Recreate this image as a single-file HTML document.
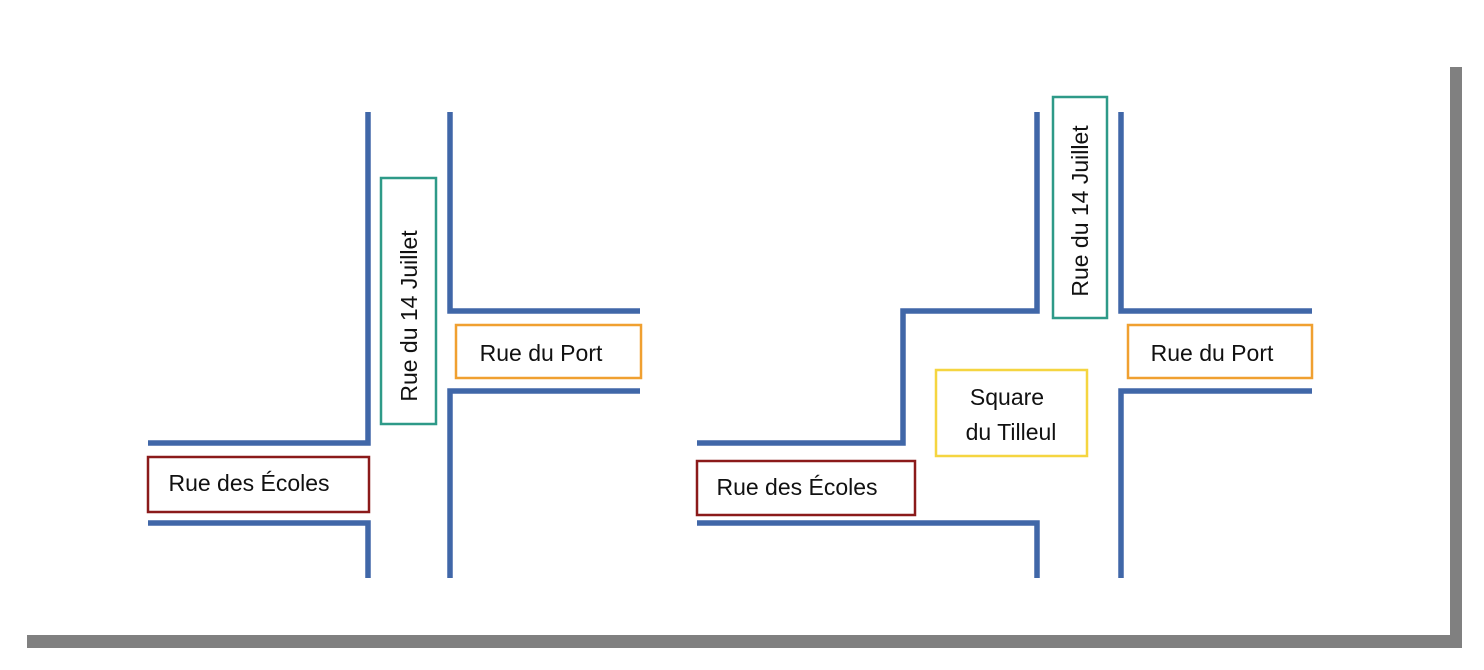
<!DOCTYPE html>
<html><head><meta charset="utf-8"><style>
html,body{margin:0;padding:0;background:#fff;width:1484px;height:670px;overflow:hidden}
svg text{font-family:"Liberation Sans",sans-serif;font-size:23px;fill:#111}
</style></head><body>
<svg width="1484" height="670" xmlns="http://www.w3.org/2000/svg">
<rect x="1450" y="67" width="12" height="581" fill="#808080"/>
<rect x="27" y="635" width="1435" height="13" fill="#808080"/>
<g fill="none" stroke="#4067a8" stroke-width="5.5">
<polyline points="368,112 368,443 148,443"/>
<polyline points="148,523 368,523 368,578"/>
<polyline points="450,112 450,311 640,311"/>
<polyline points="640,391 450,391 450,578"/>
<polyline points="1037,112 1037,311 903,311 903,443 697,443"/>
<polyline points="697,523 1037,523 1037,578"/>
<polyline points="1121,112 1121,311 1312,311"/>
<polyline points="1312,391 1121,391 1121,578"/>
</g>
<g fill="#fff" stroke-width="2.5">
<rect x="381" y="178" width="55" height="246" stroke="#2e9a88"/>
<rect x="456" y="325" width="185" height="53" stroke="#f0a030"/>
<rect x="148" y="457" width="221" height="55" stroke="#8b1a1a"/>
<rect x="1053" y="97" width="54" height="221" stroke="#2e9a88"/>
<rect x="1128" y="325" width="184" height="53" stroke="#f0a030"/>
<rect x="936" y="370" width="151" height="86" stroke="#f5d540"/>
<rect x="697" y="461" width="218" height="54" stroke="#8b1a1a"/>
</g>
<text transform="translate(417,316) rotate(-90)" text-anchor="middle">Rue du 14 Juillet</text>
<text x="541" y="361" text-anchor="middle">Rue du Port</text>
<text x="249" y="491" text-anchor="middle">Rue des Écoles</text>
<text transform="translate(1088,211) rotate(-90)" text-anchor="middle">Rue du 14 Juillet</text>
<text x="1212" y="361" text-anchor="middle">Rue du Port</text>
<text x="1007" y="405" text-anchor="middle">Square</text>
<text x="1011" y="440" text-anchor="middle">du Tilleul</text>
<text x="797" y="495" text-anchor="middle">Rue des Écoles</text>
</svg>
</body></html>
